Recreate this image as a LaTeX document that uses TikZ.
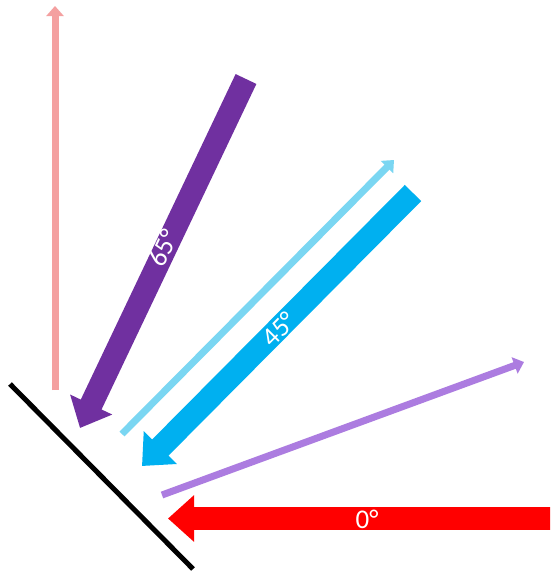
\documentclass[tikz,border=0pt]{standalone}
\usepackage{fontspec}
\setmainfont{Carlito}
\usetikzlibrary{arrows.meta}
\definecolor{pinkray}{HTML}{F4A0A0}
\definecolor{purplethick}{HTML}{7030A0}
\definecolor{cyanthin}{HTML}{7AD6F2}
\definecolor{bluethick}{HTML}{00B0F0}
\definecolor{purplethin}{HTML}{AC7CE0}
\definecolor{redthick}{HTML}{FF0000}
\tikzset{
  thinray/.style={line width=7pt, -{Triangle[width=17pt,length=10pt]}},
  thickray/.style={line width=23pt, -{Triangle[width=45pt,length=26pt]}},
  anglelabel/.style={text=white, font=\fontsize{27}{29}\selectfont, inner sep=0pt},
  mirror/.style={line width=5pt, black}
}
\begin{document}
\begin{tikzpicture}[x=1pt,y=-1pt]
\useasboundingbox (0,0) rectangle (550,574);
\clip (0,0) rectangle (550,574);
\fill[white] (0,0) rectangle (550,574);
% mirror
\coordinate (m1) at (10,384);
\coordinate (m2) at (193,569);
\draw[mirror] (m1) -- (m2);
% pink vertical reflected ray
\coordinate (p1) at (55,390);
\coordinate (p2) at (55,6);
\draw[thinray, pinkray] (p1) -- (p2);
% purple 65 incident
\coordinate (a1) at (246,79);
\coordinate (a2) at (80,428);
\draw[thickray, purplethick] (a1) -- (a2);
\node[anglelabel, rotate=64.6] (l65) at (163,248) {65°};
% cyan reflected
\coordinate (c1) at (122,434);
\coordinate (c2) at (394,160);
\draw[thinray, cyanthin] (c1) -- (c2);
% blue 45 incident
\coordinate (b1) at (413,193);
\coordinate (b2) at (142,466);
\draw[thickray, bluethick] (b1) -- (b2);
\node[anglelabel, rotate=45] (l45) at (279,329) {45°};
% light purple reflected
\coordinate (d1) at (162,495);
\coordinate (d2) at (524,362);
\draw[thinray, purplethin] (d1) -- (d2);
% red 0 incident
\coordinate (r1) at (560,518.5);
\coordinate (r2) at (168,518.5);
\draw[thickray, redthick] (r1) -- (r2);
\node[anglelabel] (l0) at (367,519) {0°};
\end{tikzpicture}
\end{document}
